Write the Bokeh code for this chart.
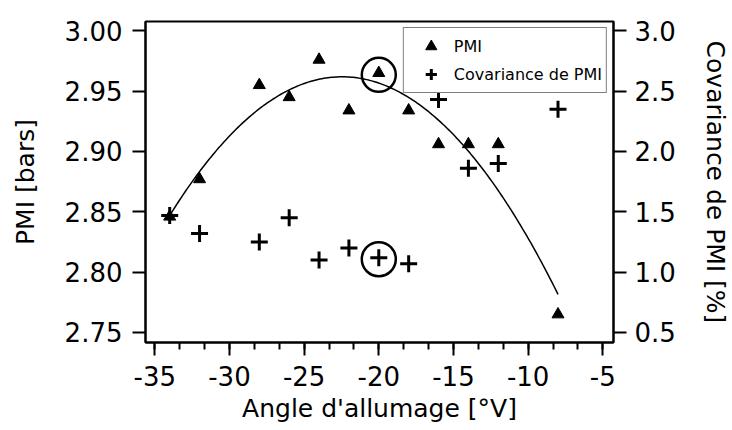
import numpy as np
from bokeh.plotting import figure
from bokeh.models import (Range1d, LinearAxis, FixedTicker, PrintfTickFormatter,
                          Legend, LegendItem)
from bokeh.embed import file_html
from bokeh.resources import INLINE

# ---- data ----
angle = [-34, -32, -28, -26, -24, -22, -20, -18, -16, -14, -12, -8]
pmi = [2.846, 2.877, 2.955, 2.945, 2.976, 2.934, 2.965, 2.934, 2.906, 2.906, 2.906, 2.765]
cov_pmi = [1.47, 1.32, 1.25, 1.45, 1.10, 1.20, 1.12, 1.07, 2.43, 1.86, 1.90, 2.35]

highlight_angle = [-20]
highlight_pmi = [2.9635]
highlight_cov = [1.107]

x_ticks = [-35, -30, -25, -20, -15, -10, -5]
x_minor_ticks = [-35 + i * 5.0 / 3.0 for i in range(19)]
pmi_ticks = [2.75, 2.80, 2.85, 2.90, 2.95, 3.00]
cov_ticks = [0.5, 1.0, 1.5, 2.0, 2.5, 3.0]

FONT = "DejaVu Sans"

# quadratic fit of PMI vs angle (as in the reference)
coeffs = np.polyfit(angle, pmi, 2)
fit_x = np.linspace(min(angle), max(angle), 200)
fit_y = np.polyval(coeffs, fit_x)

p = figure(width=732, height=430,
           x_range=Range1d(-35.62, -4.285), y_range=Range1d(2.7417, 3.0077),
           output_backend="svg", toolbar_location=None,
           min_border_left=145, min_border_right=118,
           min_border_top=21, min_border_bottom=88)
p.extra_y_ranges = {"cov": Range1d(0.417, 3.077)}

p.xgrid.visible = False
p.ygrid.visible = False
p.outline_line_color = "black"
p.outline_line_width = 2
p.background_fill_color = "white"
p.border_fill_color = "white"

p.line(fit_x, fit_y, line_color="black", line_width=1.5)
r_pmi = p.scatter(angle, pmi, marker="triangle", size=12,
                  fill_color="black", line_color="black")
r_cov = p.scatter(angle, cov_pmi, marker="cross", size=17, line_color="black",
                  line_width=3, y_range_name="cov")
p.scatter(highlight_angle, highlight_pmi, marker="circle", size=34,
          fill_color=None, line_color="black", line_width=2.5)
p.scatter(highlight_angle, highlight_cov, marker="circle", size=34,
          fill_color=None, line_color="black", line_width=2.5, y_range_name="cov")

right_axis = LinearAxis(y_range_name="cov", axis_label="Covariance de PMI [%]")
p.add_layout(right_axis, "right")

p.xaxis.axis_label = "Angle d'allumage [°V]"
p.yaxis[0].axis_label = "PMI [bars]"

p.xaxis.ticker = FixedTicker(ticks=x_ticks, minor_ticks=x_minor_ticks)
p.xaxis.formatter = PrintfTickFormatter(format="%d")
p.yaxis[0].ticker = FixedTicker(ticks=pmi_ticks, minor_ticks=[])
p.yaxis[0].formatter = PrintfTickFormatter(format="%.2f")
right_axis.ticker = FixedTicker(ticks=cov_ticks, minor_ticks=[])
right_axis.formatter = PrintfTickFormatter(format="%.1f")

for ax in [p.xaxis[0], p.yaxis[0], right_axis]:
    ax.axis_line_color = "black"
    ax.axis_line_width = 2
    ax.major_tick_line_color = "black"
    ax.major_tick_line_width = 2
    ax.minor_tick_line_color = "black"
    ax.minor_tick_line_width = 2
    ax.major_tick_in = 0
    ax.major_tick_out = 13
    ax.minor_tick_in = 0
    ax.minor_tick_out = 7
    ax.major_label_text_font = FONT
    ax.major_label_text_font_size = "26px"
    ax.major_label_text_color = "black"
    ax.axis_label_text_font = FONT
    ax.axis_label_text_font_size = "25px"
    ax.axis_label_text_font_style = "normal"
    ax.axis_label_text_color = "black"

p.xaxis.major_label_standoff = 10
p.xaxis.axis_label_standoff = 5
p.yaxis[0].major_label_standoff = 10
p.yaxis[0].axis_label_standoff = 22
right_axis.major_label_standoff = 8
right_axis.axis_label_standoff = 22

legend = Legend(items=[LegendItem(label="PMI", renderers=[r_pmi]),
                       LegendItem(label="Covariance de PMI", renderers=[r_cov])],
                location="top_right")
legend.margin = 6
legend.padding = 4
legend.spacing = -8
legend.glyph_height = 28
legend.glyph_width = 46
legend.label_height = 20
legend.label_standoff = 0
legend.label_text_font = FONT
legend.label_text_font_size = "16px"
legend.label_text_color = "black"
legend.border_line_color = "black"
legend.border_line_width = 1.5
legend.background_fill_color = "white"
legend.background_fill_alpha = 1.0
p.add_layout(legend)

open("out.html", "w").write(file_html(p, INLINE))
